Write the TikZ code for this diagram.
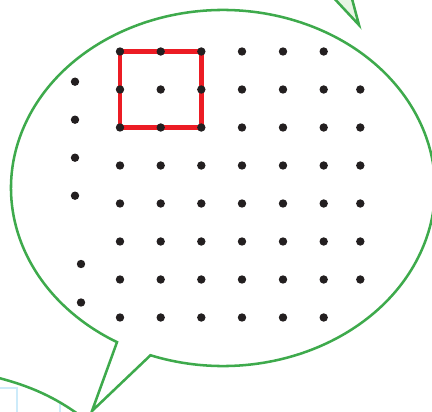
\documentclass[tikz,border=0pt]{standalone}
\usepackage{tikz}
\usetikzlibrary{positioning, calc}

\definecolor{bubblegreen}{RGB}{62,170,76}
\definecolor{squarered}{RGB}{236,28,36}
\definecolor{dotblack}{RGB}{35,31,32}
\definecolor{tailfill}{RGB}{232,245,228}
\definecolor{gridblue}{RGB}{205,235,250}

\begin{document}
\begin{tikzpicture}[
  x=0.5mm, y=-0.5mm,
  bubble/.style={draw=bubblegreen, line width=3.6pt, line join=miter},
  dot/.style={circle, fill=dotblack, inner sep=0pt, minimum size=4.2mm},
  square_edge/.style={draw=squarered, line width=6.5pt, line cap=rect},
  faint_grid/.style={draw=gridblue, line width=2pt}
]
  \useasboundingbox (0,0) rectangle (432,412);
  \clip (0,0) rectangle (432,412);

  % NEIGHBOURING BUBBLES (mostly off the page)
  \draw[faint_grid] (0,388) -- (17,388) -- (17,416);
  \draw[faint_grid] (60,404) -- (60,416);
  \draw[bubble] (-3,377.5) .. controls (30,386) and (55,397) .. (82,417);
  \draw[bubble, fill=tailfill] (331,-5) -- (359,25) -- (351,-5) -- cycle;

  % MAIN SPEECH BUBBLE
  \coordinate (centre) at (223,188);
  \coordinate (tail_tip) at (92,411);
  \draw[bubble, fill=white] ($(centre)+(110:212 and 178)$)
    arc[start angle=110, end angle=-240, x radius=212, y radius=178]
    -- (tail_tip) -- cycle;

  % DOT GRID POSITIONS
  \foreach \x [count=\i from 0] in {120,160.7,201.3,242,283,323.7,360.3} {
    \foreach \y [count=\j from 0] in {51.5,89.5,127.5,165.5,203.5,241.5,279.5,317.5} {
      \coordinate (p-\i-\j) at (\x,\y);
    }
  }

  % RED SQUARE
  \draw[square_edge] (p-0-0) -- (p-2-0) -- (p-2-2) -- (p-0-2) -- cycle;

  % DOTS
  \foreach \i in {0,...,5} {
    \foreach \j in {0,...,7} {
      \node[dot] (dot-\i-\j) at (p-\i-\j) {};
    }
  }
  \foreach \j in {1,...,6} {
    \node[dot] (dot-6-\j) at (p-6-\j) {};
  }
  \node[dot] (left-a) at (75,81.7) {};
  \node[dot] (left-b) at (75,119.7) {};
  \node[dot] (left-c) at (75,157.7) {};
  \node[dot] (left-d) at (75,195.7) {};
  \node[dot] (left-e) at (81,264) {};
  \node[dot] (left-f) at (81,302.5) {};

\end{tikzpicture}
\end{document}
